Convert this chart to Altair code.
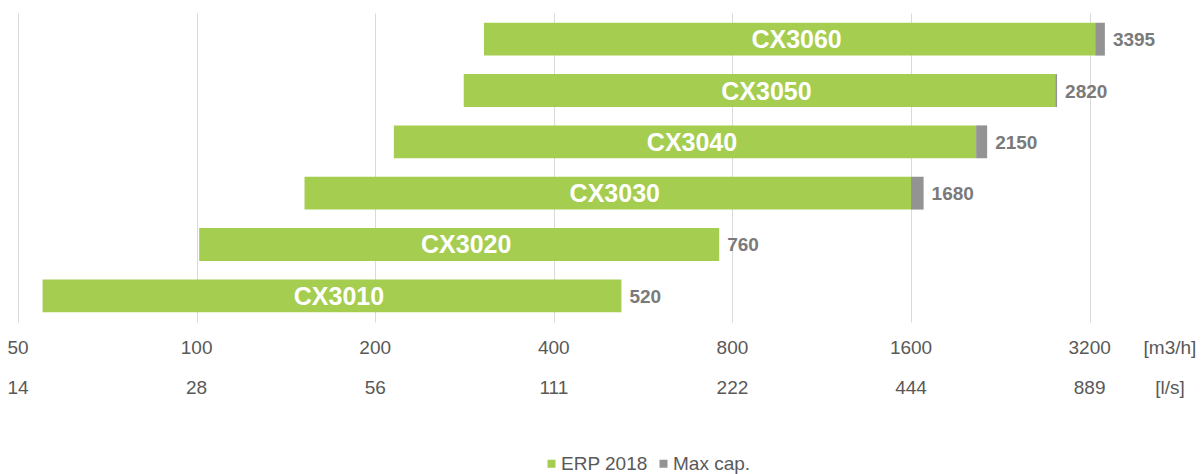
import altair as alt
import pandas as pd

# ---- data ----
models = ["CX3010", "CX3020", "CX3030", "CX3040", "CX3050", "CX3060"]
range_start = [55, 101, 152, 215, 282, 305]        # m3/h, left end of bar
erp_2018 = [520, 760, 1600, 2060, 2800, 3270]      # m3/h, end of green part
max_cap = [520, 760, 1680, 2150, 2820, 3395]       # m3/h, end of grey part
max_cap_labels = ["520", "760", "1680", "2150", "2820", "3395"]

tick_m3h = [50, 100, 200, 400, 800, 1600, 3200]
tick_m3h_labels = ["50", "100", "200", "400", "800", "1600", "3200"]
tick_ls_labels = ["14", "28", "56", "111", "222", "444", "889"]

series = ["ERP 2018", "Max cap."]
colors = ["#a5cd50", "#939393"]

FONT = "Liberation Sans"
TXT = "#595959"

wide = pd.DataFrame({"model": models, "start": range_start, "erp": erp_2018,
                     "maxcap": max_cap, "lab": max_cap_labels})
long = pd.concat([
    pd.DataFrame({"model": models, "series": series[0], "x0": range_start, "x1": erp_2018}),
    pd.DataFrame({"model": models, "series": series[1], "x0": erp_2018, "x1": max_cap}),
])
ticks = pd.DataFrame({"v": tick_m3h, "m3h": tick_m3h_labels, "ls": tick_ls_labels})

W, H = 1172, 309
xscale = alt.Scale(type="log", base=2, domain=[50, 4724], nice=False)
order = list(reversed(models))
yscale = alt.Scale(domain=order, paddingInner=0.36, paddingOuter=0.19)

xaxis = alt.Axis(values=tick_m3h, grid=True, gridColor="#d9d9d9", gridWidth=1,
                 labels=False, ticks=False, domain=False, title=None)

bars = alt.Chart(long).mark_bar().encode(
    x=alt.X("x0:Q", scale=xscale, axis=xaxis),
    x2="x1:Q",
    y=alt.Y("model:N", scale=yscale, axis=None),
    color=alt.Color("series:N", scale=alt.Scale(domain=series, range=colors),
                    legend=alt.Legend(orient="none", legendX=524, legendY=441,
                                      direction="horizontal", title=None,
                                      symbolType="square", symbolSize=64,
                                      symbolStrokeWidth=0, labelFontSize=19,
                                      labelFont=FONT, labelColor=TXT,
                                      labelOffset=0, columnPadding=6)),
)

names = alt.Chart(wide).transform_calculate(
    mid="sqrt(datum.start * datum.erp)"
).mark_text(font=FONT, fontSize=25, fontWeight="bold", color="white",
            align="center", baseline="middle", dx=7, dy=1).encode(
    x=alt.X("mid:Q", scale=xscale),
    y=alt.Y("model:N", scale=yscale),
    text="model:N",
)

values = alt.Chart(wide).mark_text(font=FONT, fontSize=19, fontWeight="bold",
                                   color="#7a7a7a", align="left",
                                   baseline="middle", dx=8, dy=1).encode(
    x=alt.X("maxcap:Q", scale=xscale),
    y=alt.Y("model:N", scale=yscale),
    text="lab:N",
)

row1 = alt.Chart(ticks).mark_text(font=FONT, fontSize=19, color=TXT,
                                  align="center", baseline="middle").encode(
    x=alt.X("v:Q", scale=xscale), y=alt.value(335), text="m3h:N")
row2 = alt.Chart(ticks).mark_text(font=FONT, fontSize=19, color=TXT,
                                  align="center", baseline="middle").encode(
    x=alt.X("v:Q", scale=xscale), y=alt.value(375), text="ls:N")

units = alt.Chart(pd.DataFrame({"u": ["[m3/h]", "[l/s]"], "yy": [335, 375]})).mark_text(
    font=FONT, fontSize=19, color=TXT, align="center", baseline="middle").encode(
    x=alt.value(1152), y=alt.Y("yy:Q", scale=None), text="u:N")

chart = alt.layer(bars, names, values, row1, row2, units).properties(
    width=W, height=H,
    autosize=alt.AutoSizeParams(type="none"),
    padding={"left": 18, "top": 13, "right": 12, "bottom": 152},
    background="white",
).configure_view(stroke=None)

chart.save("out.html", embed_options={"renderer": "svg", "actions": False})
